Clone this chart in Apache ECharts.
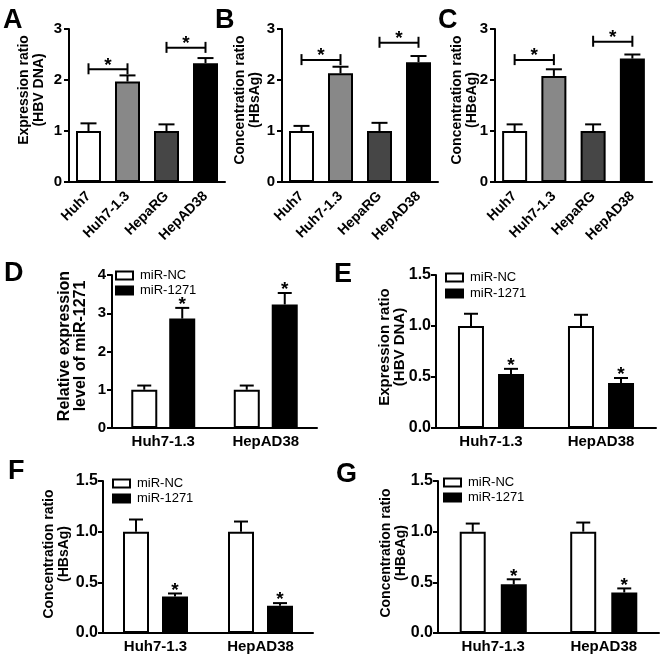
<!DOCTYPE html>
<html>
<head>
<meta charset="utf-8">
<script src="https://cdn.jsdelivr.net/npm/echarts@6/dist/echarts.min.js"></script>
<style>html,body{margin:0;padding:0;background:#fff}#c{width:661px;height:659px}</style>
</head>
<body>
<div id="c"></div>
<script>
// ---------- data ----------
const topCategories = ['Huh7', 'Huh7-1.3', 'HepaRG', 'HepAD38'];
const aValues = [1.00, 1.97, 1.00, 2.33];
const aErrors = [0.15, 0.12, 0.13, 0.10];
const aBrackets = [[0, 2.21, 1], [2, 2.63, 3]];
const bValues = [1.00, 2.13, 1.00, 2.35];
const bErrors = [0.10, 0.13, 0.16, 0.12];
const bBrackets = [[0, 2.39, 1], [2, 2.73, 3]];
const cValues = [1.00, 2.08, 1.00, 2.42];
const cErrors = [0.13, 0.13, 0.13, 0.08];
const cBrackets = [[0, 2.39, 1], [2, 2.75, 3]];

const groupCategories = ['Huh7-1.3', 'HepAD38'];
const seriesNames = ['miR-NC', 'miR-1271'];
const dNC = [1.00, 1.00], dNCerr = [0.11, 0.11];
const d1271 = [2.86, 3.23], d1271err = [0.28, 0.30];
const eNC = [1.00, 1.00], eNCerr = [0.12, 0.11];
const e1271 = [0.53, 0.44], e1271err = [0.05, 0.05];
const fNC = [1.00, 1.00], fNCerr = [0.12, 0.10];
const f1271 = [0.36, 0.27], f1271err = [0.03, 0.025];
const gNC = [1.00, 1.00], gNCerr = [0.08, 0.09];
const g1271 = [0.48, 0.40], g1271err = [0.05, 0.04];

const topTicks = [0, 1, 2, 3];
const dTicks = [0, 1, 2, 3, 4];
const smallTicks = [0, 0.5, 1.0, 1.5];

// ---------- styling / layout ----------
const FONT = '"Liberation Sans", Arial, Helvetica, sans-serif';
const topColors = ['#ffffff', '#888888', '#464646', '#000000'];
const grids = [
  {left: 69, top: 29, width: 156, height: 153},
  {left: 282, top: 29, width: 156, height: 153},
  {left: 495, top: 29, width: 157, height: 153},
  {left: 112, top: 275, width: 205, height: 153},
  {left: 436, top: 275, width: 220, height: 153},
  {left: 103, top: 481, width: 210, height: 152},
  {left: 438, top: 481, width: 221, height: 152}
];

function xAxisTop(i) {
  return {
    type: 'category', gridIndex: i, data: topCategories,
    axisLine: {lineStyle: {color: '#000', width: 2}},
    axisTick: {alignWithLabel: true, length: 5, lineStyle: {width: 2, color: '#000'}},
    axisLabel: {rotate: 45, interval: 0, margin: 12, color: '#000', fontWeight: 'bold', fontSize: 14, fontFamily: FONT}
  };
}
function xAxisGroup(i) {
  return {
    type: 'category', gridIndex: i, data: groupCategories,
    axisLine: {lineStyle: {color: '#000', width: 2}},
    axisTick: {alignWithLabel: true, length: 5, lineStyle: {width: 2, color: '#000'}},
    axisLabel: {interval: 0, margin: 6, color: '#000', fontWeight: 'bold', fontSize: 15, fontFamily: FONT}
  };
}
function yAxis(i, ticks, fmt, margin, size) {
  return {
    type: 'value', gridIndex: i, min: ticks[0], max: ticks[ticks.length - 1],
    interval: ticks[1] - ticks[0],
    splitLine: {show: false},
    axisLine: {show: true, lineStyle: {color: '#000', width: 2}},
    axisTick: {show: true, length: 5, lineStyle: {width: 2, color: '#000'}},
    axisLabel: {margin: margin, color: '#000', fontWeight: 'bold', fontSize: size, fontFamily: FONT,
      formatter: fmt}
  };
}
const oneDec = v => v.toFixed(1);
const intFmt = v => String(v);

function errSeries(i, vals, errs, offset, cap, star) {
  return {
    type: 'custom', xAxisIndex: i, yAxisIndex: i, z: 5, clip: false,
    encode: {x: 0, y: 1},
    data: vals.map((v, k) => [k, v, errs[k]]),
    renderItem: function (params, api) {
      const idx = api.value(0), v = api.value(1), e = api.value(2);
      const base = api.coord([idx, v]);
      const top = api.coord([idx, v + e]);
      const x = base[0] + offset;
      const st = {stroke: '#000', lineWidth: 2};
      const children = [
        {type: 'line', shape: {x1: x, y1: base[1], x2: x, y2: top[1]}, style: st},
        {type: 'line', shape: {x1: x - cap / 2, y1: top[1], x2: x + cap / 2, y2: top[1]}, style: st}
      ];
      if (star) {
        children.push({type: 'text', style: {text: '*', x: x, y: top[1] - 3, textAlign: 'center',
          textVerticalAlign: 'middle', font: 'bold 19px ' + FONT, fill: '#000'}});
      }
      return {type: 'group', children: children};
    }
  };
}
function bracketSeries(i, brackets) {
  return {
    type: 'custom', xAxisIndex: i, yAxisIndex: i, z: 6, clip: false,
    encode: {x: 0, y: 1},
    data: brackets,
    renderItem: function (params, api) {
      const p1 = api.coord([api.value(0), api.value(1)]);
      const p2 = api.coord([api.value(2), api.value(1)]);
      const st = {stroke: '#000', lineWidth: 2};
      const y = p1[1];
      return {type: 'group', children: [
        {type: 'line', shape: {x1: p1[0], y1: y, x2: p2[0], y2: y}, style: st},
        {type: 'line', shape: {x1: p1[0], y1: y - 6, x2: p1[0], y2: y + 5}, style: st},
        {type: 'line', shape: {x1: p2[0], y1: y - 6, x2: p2[0], y2: y + 5}, style: st},
        {type: 'text', style: {text: '*', x: (p1[0] + p2[0]) / 2, y: y - 4, textAlign: 'center',
          textVerticalAlign: 'middle', font: 'bold 19px ' + FONT, fill: '#000'}}
      ]};
    }
  };
}
function topBar(i, vals) {
  return {
    type: 'bar', xAxisIndex: i, yAxisIndex: i, barWidth: 25,
    itemStyle: {borderColor: '#000', borderWidth: 2},
    data: vals.map((v, k) => ({value: v, itemStyle: {color: topColors[k]}}))
  };
}
function groupBars(i, nc, mi, bw, gapPct) {
  return [
    {type: 'bar', name: seriesNames[0], xAxisIndex: i, yAxisIndex: i, barWidth: bw, barGap: gapPct,
      itemStyle: {color: '#fff', borderColor: '#000', borderWidth: 2}, data: nc},
    {type: 'bar', name: seriesNames[1], xAxisIndex: i, yAxisIndex: i, barWidth: bw, barGap: gapPct,
      itemStyle: {color: '#000', borderColor: '#000', borderWidth: 2}, data: mi}
  ];
}
function legendAt(left, top, gap) {
  return {
    left: left, top: top, orient: 'vertical', padding: 0, itemGap: gap,
    itemWidth: 17, itemHeight: 8, icon: 'rect', selectedMode: false,
    textStyle: {fontSize: 13, color: '#000', fontFamily: FONT, padding: [0, 0, 0, 2]},
    data: [
      {name: seriesNames[0], itemStyle: {color: '#fff', borderColor: '#000', borderWidth: 2}},
      {name: seriesNames[1], itemStyle: {color: '#000', borderColor: '#000', borderWidth: 2}}
    ]
  };
}
function letter(t, x, y) {
  return {type: 'text', x: x, y: y, style: {text: t, font: 'bold 27px ' + FONT, fill: '#000',
    textAlign: 'left', textVerticalAlign: 'bottom'}};
}
function ytitle(t, x, y, size, lh) {
  return {type: 'text', x: x, y: y, rotation: Math.PI / 2,
    style: {text: t, font: 'bold ' + size + 'px ' + FONT, fill: '#000', lineHeight: lh,
      textAlign: 'center', textVerticalAlign: 'middle'}};
}

const series = [
  topBar(0, aValues), errSeries(0, aValues, aErrors, 0, 16, false), bracketSeries(0, aBrackets),
  topBar(1, bValues), errSeries(1, bValues, bErrors, 0, 16, false), bracketSeries(1, bBrackets),
  topBar(2, cValues), errSeries(2, cValues, cErrors, 0, 16, false), bracketSeries(2, cBrackets),
  ...groupBars(3, dNC, d1271, 26, '46%'),
  errSeries(3, dNC, dNCerr, -19, 14, false), errSeries(3, d1271, d1271err, 19, 14, true),
  ...groupBars(4, eNC, e1271, 26, '54%'),
  errSeries(4, eNC, eNCerr, -20, 14, false), errSeries(4, e1271, e1271err, 20, 14, true),
  ...groupBars(5, fNC, f1271, 26, '50%'),
  errSeries(5, fNC, fNCerr, -19.5, 14, false), errSeries(5, f1271, f1271err, 19.5, 14, true),
  ...groupBars(6, gNC, g1271, 26, '58%'),
  errSeries(6, gNC, gNCerr, -20.5, 14, false), errSeries(6, g1271, g1271err, 20.5, 14, true)
];

const option = {
  animation: false,
  backgroundColor: '#fff',
  textStyle: {fontFamily: FONT},
  grid: grids,
  xAxis: [xAxisTop(0), xAxisTop(1), xAxisTop(2), xAxisGroup(3), xAxisGroup(4), xAxisGroup(5), xAxisGroup(6)],
  yAxis: [
    yAxis(0, topTicks, intFmt, 7, 15), yAxis(1, topTicks, intFmt, 7, 15), yAxis(2, topTicks, intFmt, 7, 15),
    yAxis(3, dTicks, intFmt, 6, 15), yAxis(4, smallTicks, oneDec, 5, 16),
    yAxis(5, smallTicks, oneDec, 5, 16), yAxis(6, smallTicks, oneDec, 5, 16)
  ],
  legend: [legendAt(115, 269, 2), legendAt(445, 271, 3), legendAt(112, 477, 2), legendAt(443, 476, 2)],
  graphic: [
    letter('A', 3, 34), letter('B', 215, 34), letter('C', 438, 34),
    letter('D', 4, 287), letter('E', 334, 288), letter('F', 8, 485), letter('G', 336, 488),
    ytitle('Expression ratio\n(HBV DNA)', 32, 90, 14, 15),
    ytitle('Concentration ratio\n(HBsAg)', 248, 100, 14, 15),
    ytitle('Concentration ratio\n(HBeAg)', 465, 100, 14, 15),
    ytitle('Relative expression\nlevel of miR-1271', 73, 346, 16, 16),
    ytitle('Expression ratio\n(HBV DNA)', 392, 347, 15, 15),
    ytitle('Concentration ratio\n(HBsAg)', 57, 554, 14, 15),
    ytitle('Concentration ratio\n(HBeAg)', 394, 553, 14, 15)
  ],
  series: series
};
echarts.init(document.getElementById('c'), null, {renderer: 'canvas'}).setOption(option);
</script>
</body>
</html>
